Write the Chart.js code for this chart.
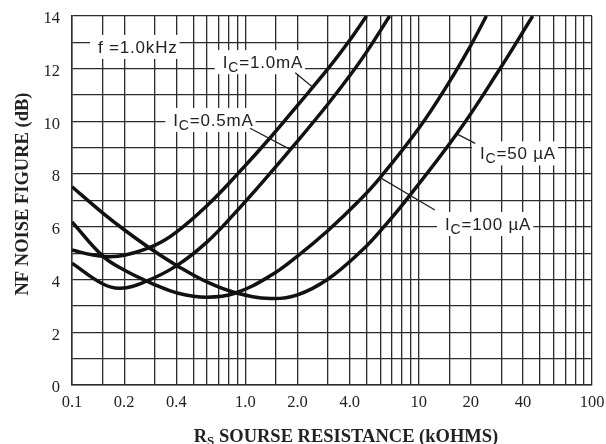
<!DOCTYPE html>
<html>
<head>
<meta charset="utf-8">
<script src="https://cdn.jsdelivr.net/npm/chart.js@4.4.0/dist/chart.umd.min.js"></script>
<style>
  html, body { margin: 0; padding: 0; background: #fff; }
  canvas { display: block; }
</style>
</head>
<body>
<canvas id="chart" width="606" height="444"></canvas>
<script>
// source resistance (kOhm) and noise figure (dB)
const rs1mA = [0.1, 0.13, 0.16, 0.2, 0.3, 0.4, 0.6, 0.9, 1.4, 2.0, 3.0, 4.0, 5.0];
const nf1mA = [5.12, 4.94, 4.87, 4.92, 5.3, 5.8, 6.8, 8.0, 9.4, 10.61, 12.0, 13.08, 14.0];

const rs05mA = [0.1, 0.15, 0.19, 0.26, 0.4, 0.6, 0.87, 1.3, 2.0, 3.0, 4.0, 5.0, 6.8];
const nf05mA = [4.62, 3.84, 3.67, 3.9, 4.52, 5.42, 6.52, 7.81, 9.25, 10.66, 11.73, 12.63, 14.0];

const rs100uA = [0.1, 0.15, 0.2, 0.29, 0.41, 0.6, 0.87, 1.4, 2.0, 3.0, 4.5, 6.0, 10, 15, 20, 24.6];
const nf100uA = [6.19, 4.9, 4.36, 3.85, 3.48, 3.33, 3.48, 4.15, 4.89, 5.86, 6.97, 7.87, 9.73, 11.49, 12.89, 14.0];

const rs50uA = [0.1, 0.15, 0.2, 0.29, 0.41, 0.6, 0.87, 1.4, 2.0, 3.0, 4.8, 6.0, 8.2, 16.6, 29, 45.5];
const nf50uA = [7.52, 6.53, 5.89, 5.13, 4.5, 3.91, 3.51, 3.28, 3.42, 4.02, 5.16, 5.84, 6.9, 9.53, 11.93, 14.0];

// grid lines on the log axis, and the ones that carry a label
const xGrid = [0.1, 0.15, 0.2, 0.3, 0.4, 0.5, 0.6, 0.7, 0.8, 0.9,
               1, 1.5, 2, 3, 4, 5, 6, 7, 8, 9,
               10, 15, 20, 30, 40, 50, 60, 70, 80, 90, 100];
const xLabels = [0.1, 0.2, 0.4, 1, 2, 4, 10, 20, 40, 100];
const yLabels = [0, 2, 4, 6, 8, 10, 12, 14];

// curve labels, placed in data units (x = text start, y = baseline)
const notes = [
  { main: "f =1.0kHz", sub: "", rest: "", x: 0.1413, y: 12.6 },
  { main: "I", sub: "C", rest: "=1.0mA", x: 0.741, y: 12.02, leader: [[1.94, 11.85], [2.45, 11.3]] },
  { main: "I", sub: "C", rest: "=0.5mA", x: 0.384, y: 9.83, leader: [[1.065, 9.74], [1.81, 8.94]] },
  { main: "I", sub: "C", rest: "=50 µA", x: 22.6, y: 8.56, leader: [[21.2, 9.17], [16.6, 9.53]] },
  { main: "I", sub: "C", rest: "=100 µA", x: 14.2, y: 5.88, leader: [[6.0, 7.87], [12.4, 6.64]] }
];

const INK = "#222";
const GRID = "#2b2b2b";

function pts(xs, ys) {
  return xs.map((x, i) => ({ x: x, y: ys[i] }));
}

function curve(label, xs, ys) {
  return {
    label: label,
    data: pts(xs, ys),
    showLine: true,
    borderColor: "#111",
    borderWidth: 3.5,
    pointRadius: 0,
    tension: 0.4,
    fill: false
  };
}

const notesPlugin = {
  id: "notes",
  afterDatasetsDraw(chart) {
    let ctx = chart.ctx;
    let xs = chart.scales.x, ys = chart.scales.y;
    let mainFont = '17px "Liberation Sans", Arial, sans-serif';
    let subFont = '14px "Liberation Sans", Arial, sans-serif';
    ctx.save();
    ctx.letterSpacing = "0.8px";
    ctx.textBaseline = "alphabetic";
    ctx.textAlign = "left";
    notes.forEach(n => {
      let px = xs.getPixelForValue(n.x);
      let py = ys.getPixelForValue(n.y);
      ctx.font = mainFont;
      let w1 = ctx.measureText(n.main).width;
      let w3 = ctx.measureText(n.rest).width;
      ctx.font = subFont;
      let w2 = n.sub ? ctx.measureText(n.sub).width : 0;
      let w = w1 + w2 + w3;

      ctx.fillStyle = "#fff";
      ctx.fillRect(px - 8, py - 18, w + 10, 24);

      ctx.fillStyle = INK;
      ctx.font = mainFont;
      ctx.fillText(n.main, px, py);
      if (n.sub) {
        ctx.font = subFont;
        ctx.fillText(n.sub, px + w1, py + 4);
      }
      ctx.font = mainFont;
      ctx.fillText(n.rest, px + w1 + w2, py);

      if (n.leader) {
        ctx.strokeStyle = INK;
        ctx.lineWidth = 1.3;
        ctx.beginPath();
        ctx.moveTo(xs.getPixelForValue(n.leader[0][0]), ys.getPixelForValue(n.leader[0][1]));
        ctx.lineTo(xs.getPixelForValue(n.leader[1][0]), ys.getPixelForValue(n.leader[1][1]));
        ctx.stroke();
      }
    });
    ctx.restore();
  },
  afterDraw(chart) {
    let ctx = chart.ctx;
    ctx.save();
    ctx.fillStyle = INK;
    ctx.textBaseline = "alphabetic";

    // x title with subscript S
    let big = 'bold 18.5px "Liberation Serif", "Times New Roman", serif';
    let small = 'bold 13px "Liberation Serif", "Times New Roman", serif';
    let a = "R", b = "S", c = " SOURSE RESISTANCE (kOHMS)";
    ctx.font = big;
    let wa = ctx.measureText(a).width, wc = ctx.measureText(c).width;
    ctx.font = small;
    let wb = ctx.measureText(b).width;
    let x0 = 346 - (wa + wb + wc) / 2;
    ctx.textAlign = "left";
    ctx.font = big;
    ctx.fillText(a, x0, 442);
    ctx.font = small;
    ctx.fillText(b, x0 + wa, 445);
    ctx.font = big;
    ctx.fillText(c, x0 + wa + wb, 442);

    // y title
    ctx.translate(28, 194);
    ctx.rotate(-Math.PI / 2);
    ctx.textAlign = "center";
    ctx.font = big;
    ctx.fillText("NF NOISE FIGURE (dB)", 0, 0);
    ctx.restore();
  }
};

new Chart(document.getElementById("chart"), {
  type: "scatter",
  data: {
    datasets: [
      curve("IC=1.0mA", rs1mA, nf1mA),
      curve("IC=0.5mA", rs05mA, nf05mA),
      curve("IC=100µA", rs100uA, nf100uA),
      curve("IC=50µA", rs50uA, nf50uA)
    ]
  },
  options: {
    responsive: false,
    animation: false,
    devicePixelRatio: 1,
    layout: { padding: { left: 0, top: 16, right: 14, bottom: 0 } },
    plugins: {
      legend: { display: false },
      tooltip: { enabled: false }
    },
    scales: {
      x: {
        type: "logarithmic",
        min: 0.1,
        max: 100,
        afterBuildTicks: s => { s.ticks = xGrid.map(v => ({ value: v })); },
        afterFit: s => { s.height = 59; s.paddingLeft = 0; s.paddingRight = 0; },
        grid: { color: GRID, lineWidth: 1.3, drawTicks: false },
        border: { display: true, color: GRID, width: 1.5 },
        ticks: {
          autoSkip: false,
          maxRotation: 0,
          padding: 8,
          color: INK,
          font: { family: '"Liberation Serif", "Times New Roman", serif', size: 16.5 },
          callback: v => xLabels.includes(v) ? (v < 10 ? v.toFixed(1) : String(v)) : ""
        }
      },
      y: {
        type: "linear",
        min: 0,
        max: 14,
        afterFit: s => { s.width = 72; s.paddingTop = 0; s.paddingBottom = 0; },
        grid: { color: GRID, lineWidth: 1.3, drawTicks: false },
        border: { display: true, color: GRID, width: 1.5 },
        ticks: {
          stepSize: 1,
          autoSkip: false,
          padding: 12,
          labelOffset: 3,
          color: INK,
          font: { family: '"Liberation Serif", "Times New Roman", serif', size: 16.5 },
          callback: v => yLabels.includes(v) ? String(v) : ""
        }
      }
    }
  },
  plugins: [notesPlugin]
});
</script>
</body>
</html>
